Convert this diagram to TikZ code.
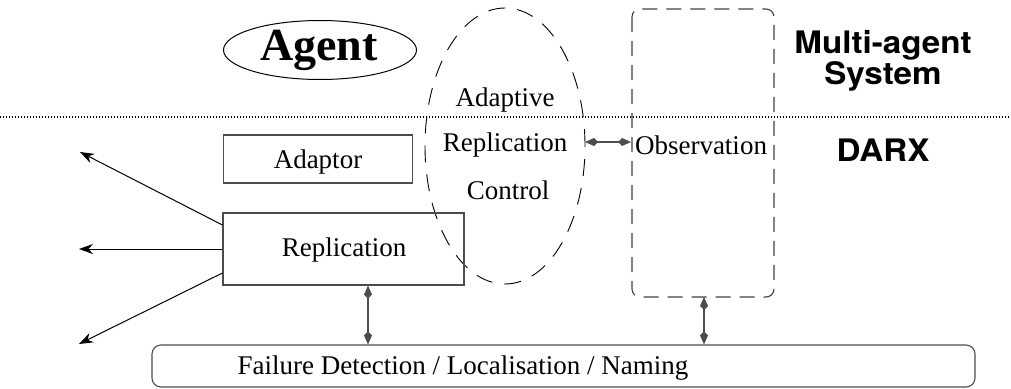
\documentclass[tikz,border=0pt]{standalone}
\usepackage{fontspec}
\setmainfont{Liberation Serif}
\newfontfamily\heros{TeX Gyre Heros}
\usetikzlibrary{arrows.meta,shapes.geometric}
\begin{document}
\begin{tikzpicture}[x=1pt,y=-1pt,
  boxline/.style={draw=black!70,line width=1.1pt},
  txt/.style={font=\fontsize{27}{28}\selectfont,inner sep=0pt},
  dashline/.style={draw=black!75,line width=1.1pt,dash pattern=on 15pt off 9pt},
  bigarrow/.style={-{Stealth[length=14pt,width=10pt]},line width=1pt},
  dblarrow/.style={{Kite[length=13pt,width=8pt,inset=4pt]}-{Kite[length=13pt,width=8pt,inset=4pt]},draw=black!70,line width=1.2pt},
  side/.style={font=\heros\bfseries\fontsize{31}{28}\selectfont,align=center,inner sep=0pt}]
\useasboundingbox (0,0) rectangle (1011,388);
% separator
\draw[line width=1.1pt,dash pattern=on 1pt off 2pt] (0,117) -- (1011,117);
% agent
\node[draw,ellipse,line width=1pt,minimum width=193pt,minimum height=59pt,inner sep=0pt] (agent) at (320,50) {};
\node[font=\bfseries\fontsize{46}{46}\selectfont,inner sep=0pt] (agenttxt) at (319,50) {Agent};
% adaptive replication control ellipse
\draw[line width=0.9pt,dash pattern=on 17pt off 12pt] (505,146) ellipse [x radius=80pt,y radius=138pt];
\node[txt] (arc1) at (505,100) {Adaptive};
\node[txt] (arc2) at (505,145) {Replication};
\node[txt] (arc3) at (508,190) {Control};
\coordinate (arcR) at (585,142);
% observation
\draw[dashline,rounded corners=8pt] (632,9) rectangle (774,297);
\node[txt] (obs) at (701,145) {Observation};
\coordinate (obsL) at (631,142);
\coordinate (obsB) at (704,297);
\draw[dblarrow] (arcR) -- (obsL);
% adaptor
\node[boxline,minimum width=189pt,minimum height=48pt,inner sep=0pt] (adaptor) at (318,159) {};
\node[txt] (adaptortxt) at (318,162) {Adaptor};
% replication
\node[boxline,minimum width=241pt,minimum height=72pt,inner sep=0pt] (repl) at (343.5,249) {};
\node[txt] (repltxt) at (344,250) {Replication};
% failure
\node[boxline,rounded corners=9pt,minimum width=823pt,minimum height=42pt,inner sep=0pt] (fail) at (563.5,366) {};
\node[txt] (failtxt) at (463,368) {Failure Detection / Localisation / Naming};
% outgoing arrows
\coordinate (o1) at (80,152);
\coordinate (o2) at (79,249);
\coordinate (o3) at (79,344);
\draw[bigarrow] ([yshift=24pt]repl.west) -- (o1);
\draw[bigarrow] (repl.west) -- (o2);
\draw[bigarrow] ([yshift=-24pt]repl.west) -- (o3);
% vertical double arrows
\draw[dblarrow] (repl.south -| 368,0) -- (fail.north -| 368,0);
\draw[dblarrow] (obsB) -- (fail.north -| obsB);
% side labels
\node[side] (mas) at (883,61) {\scalebox{1.07}[1]{Multi-agent}\\\scalebox{1.07}[1]{System}};
\node[side] (darx) at (883,150) {\scalebox{1.07}[1]{DARX}};
\end{tikzpicture}
\end{document}
